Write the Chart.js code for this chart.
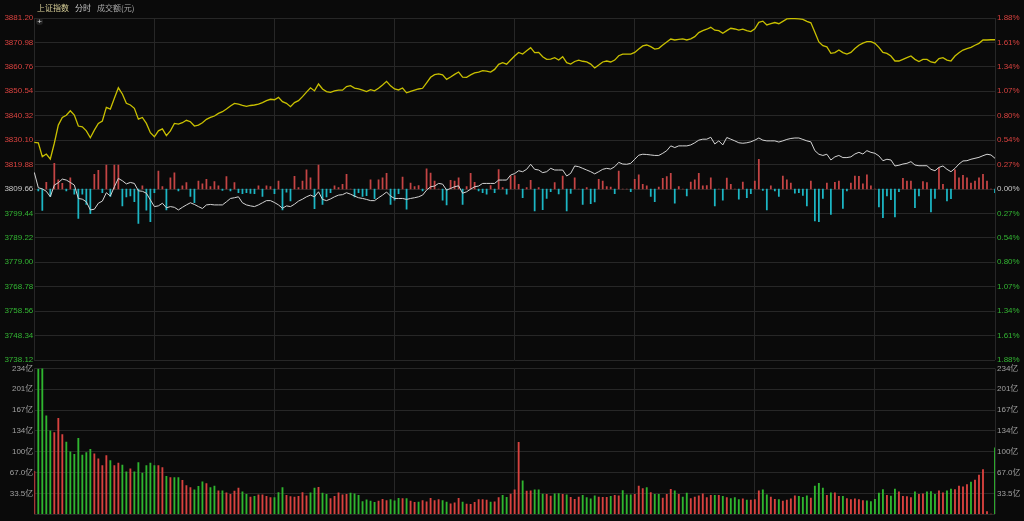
<!DOCTYPE html>
<html>
<head>
<meta charset="utf-8">
<title>上证指数 分时</title>
<script src="https://cdn.jsdelivr.net/npm/chart.js@4.4.1/dist/chart.umd.min.js"></script>
<style>
  body { margin: 0; background: #0a0a0a; }
  #wrap { position: relative; width: 1024px; height: 521px; overflow: hidden; background: #0a0a0a; }
  #wrap canvas { position: absolute; left: 0; top: 0; }
  #title { position: absolute; left: 37px; top: 2px; z-index: 3; white-space: nowrap;
           font: 8px "Noto Sans CJK SC", "Liberation Sans", sans-serif; color: #a8a8a8; }
  #title .name { color: #d8cf98; margin-right: 6px; }
  #title .mode { color: #c8c8c8; margin-right: 6px; }
  #cross { position: absolute; left: 36px; top: 18px; z-index: 3; width: 7px; height: 7px; border-radius: 50%;
           background: #222; color: #ddd; font: 8px "Liberation Sans", sans-serif; line-height: 7px; text-align: center; }
</style>
</head>
<body>
<div id="wrap">
  <div id="title"><span class="name">上证指数</span><span class="mode">分时</span><span>成交额(元)</span></div>
  <div id="cross">+</div>
  <canvas id="price" width="1024" height="521"></canvas>
  <canvas id="volume" width="1024" height="521"></canvas>
</div>
<script>
// 昨收
const prevClose = 3809.66;

// 左右坐标刻度 (从下到上)
const priceTicks = [3738.12, 3748.34, 3758.56, 3768.78, 3779.00, 3789.22, 3799.44, 3809.66,
                    3819.88, 3830.10, 3840.32, 3850.54, 3860.76, 3870.98, 3881.20];
const pctTicks = ['1.88%', '1.61%', '1.34%', '1.07%', '0.80%', '0.54%', '0.27%', '0.00%',
                  '0.27%', '0.54%', '0.80%', '1.07%', '1.34%', '1.61%', '1.88%'];
const volTicks = [0, 33.5, 67.0, 100, 134, 167, 201, 234];
const volLabels = ['', '33.5亿', '67.0亿', '100亿', '134亿', '167亿', '201亿', '234亿'];

// 黄线 (指数)
const indexLine = [
  3829.2, 3829.0, 3823.2, 3824.3, 3822.2, 3828.8, 3836.4, 3839.6, 3840.5, 3842.4,
  3840.6, 3836.0, 3835.7, 3834.0, 3831.1, 3834.3, 3837.1, 3838.1, 3843.8, 3843.1,
  3847.6, 3852.0, 3849.4, 3845.5, 3844.8, 3843.4, 3838.9, 3839.6, 3837.1, 3833.2,
  3831.5, 3834.0, 3834.8, 3832.0, 3834.0, 3837.1, 3836.8, 3837.4, 3838.4, 3837.8,
  3836.0, 3836.4, 3837.4, 3838.8, 3839.6, 3840.2, 3841.3, 3842.0, 3843.1, 3844.4,
  3845.5, 3845.2, 3844.6, 3844.2, 3844.6, 3844.8, 3845.2, 3845.8, 3846.6, 3847.2,
  3847.0, 3848.0, 3846.2, 3845.5, 3844.1, 3845.8, 3846.6, 3848.3, 3850.2, 3852.0,
  3850.7, 3853.6, 3851.5, 3850.4, 3850.1, 3850.7, 3851.0, 3851.0, 3852.5, 3852.9,
  3851.9, 3851.5, 3851.0, 3850.4, 3851.2, 3850.7, 3851.8, 3853.2, 3854.7, 3852.8,
  3851.5, 3851.1, 3851.9, 3849.9, 3850.5, 3851.0, 3851.5, 3851.8, 3854.1, 3856.4,
  3857.5, 3857.8, 3857.4, 3855.5, 3856.5, 3857.6, 3858.6, 3856.5, 3856.4, 3857.4,
  3858.2, 3858.6, 3859.2, 3859.0, 3858.6, 3859.7, 3861.8, 3862.5, 3861.9, 3863.6,
  3865.3, 3866.8, 3866.1, 3867.5, 3868.8, 3866.7, 3866.8, 3865.0, 3863.9, 3864.0,
  3864.6, 3863.6, 3865.0, 3862.5, 3861.9, 3863.0, 3863.6, 3863.1, 3862.8, 3861.9,
  3860.3, 3861.5, 3862.8, 3863.2, 3862.8, 3863.6, 3865.4, 3866.1, 3866.1, 3866.1,
  3866.8, 3868.2, 3869.5, 3869.9, 3869.2, 3868.2, 3868.5, 3869.9, 3871.2, 3872.4,
  3872.0, 3872.3, 3872.5, 3872.0, 3872.5, 3873.4, 3875.1, 3875.9, 3876.5, 3877.3,
  3876.1, 3875.9, 3874.8, 3875.9, 3876.9, 3876.6, 3876.1, 3876.5, 3875.9, 3875.5,
  3876.7, 3879.4, 3879.9, 3878.3, 3878.8, 3879.3, 3878.8, 3879.8, 3880.8, 3880.9,
  3880.9, 3880.8, 3880.6, 3879.8, 3879.2, 3875.2, 3871.2, 3869.6, 3869.1, 3866.4,
  3866.7, 3867.8, 3866.7, 3866.1, 3866.8, 3868.4, 3869.8, 3870.7, 3871.3, 3871.3,
  3870.6, 3868.9, 3866.8, 3866.4, 3865.3, 3863.2, 3863.2, 3863.9, 3864.6, 3865.3,
  3863.9, 3863.0, 3863.9, 3863.9, 3862.8, 3862.5, 3864.2, 3864.6, 3863.6, 3863.2,
  3865.3, 3866.7, 3867.8, 3868.4, 3868.9, 3869.8, 3870.6, 3872.0, 3872.0, 3872.1,
  3872.1
];

// 白线 (领先指标)
const leadLine = [
  3816.6, 3810.2, 3809.7, 3808.7, 3806.4, 3811.3, 3812.3, 3813.8, 3813.4, 3812.4,
  3811.3, 3805.7, 3805.4, 3804.3, 3800.9, 3801.2, 3803.7, 3804.6, 3808.1, 3806.7,
  3810.6, 3814.1, 3813.1, 3811.8, 3812.4, 3812.0, 3808.9, 3808.7, 3807.9, 3805.1,
  3802.3, 3802.6, 3803.7, 3801.8, 3802.3, 3802.0, 3800.9, 3802.0, 3803.0, 3803.9,
  3803.2, 3802.3, 3801.5, 3803.0, 3803.2, 3803.0, 3803.0, 3803.0, 3804.3, 3805.7,
  3806.0, 3806.4, 3803.9, 3803.0, 3802.6, 3802.3, 3803.0, 3803.9, 3804.8, 3804.8,
  3804.0, 3803.0, 3801.6, 3802.6, 3802.3, 3803.3, 3804.6, 3805.4, 3806.4, 3807.1,
  3806.4, 3808.5, 3805.3, 3804.8, 3805.5, 3806.4, 3807.1, 3807.3, 3808.1, 3807.5,
  3806.7, 3806.0, 3805.7, 3805.3, 3804.8, 3804.8, 3806.0, 3807.1, 3808.4, 3806.7,
  3805.7, 3805.7, 3805.7, 3805.3, 3805.7, 3806.0, 3806.4, 3807.1, 3809.2, 3810.6,
  3810.9, 3812.0, 3811.7, 3809.2, 3809.9, 3810.6, 3811.0, 3807.9, 3808.5, 3809.6,
  3810.6, 3810.9, 3812.0, 3812.0, 3812.0, 3812.0, 3813.4, 3813.4, 3813.4, 3815.5,
  3816.1, 3817.3, 3816.9, 3817.9, 3820.0, 3817.9, 3817.6, 3816.5, 3816.9, 3818.3,
  3817.6, 3817.6, 3817.6, 3815.1, 3816.2, 3819.3, 3819.0, 3818.3, 3817.6, 3816.9,
  3816.0, 3816.9, 3817.9, 3818.3, 3818.0, 3819.0, 3820.8, 3820.1, 3820.0, 3820.4,
  3822.1, 3823.8, 3824.2, 3824.1, 3823.9, 3823.7, 3823.7, 3824.6, 3825.7, 3827.7,
  3827.0, 3827.7, 3827.7, 3827.7, 3828.1, 3829.0, 3830.1, 3830.5, 3830.5, 3831.3,
  3828.5, 3829.8, 3828.1, 3831.2, 3830.5, 3829.8, 3829.0, 3828.8, 3829.0, 3829.4,
  3830.1, 3831.0, 3830.1, 3829.8, 3829.8, 3829.8, 3829.3, 3829.8, 3830.4, 3830.8,
  3831.0, 3831.0, 3830.4, 3829.8, 3829.4, 3825.7, 3824.2, 3823.7, 3824.2, 3821.8,
  3823.1, 3823.7, 3822.8, 3822.8, 3823.1, 3824.3, 3825.0, 3824.3, 3825.7, 3825.0,
  3824.6, 3823.5, 3821.5, 3822.1, 3821.8, 3819.3, 3819.6, 3820.1, 3820.4, 3821.1,
  3819.7, 3819.4, 3819.4, 3819.4, 3817.9, 3817.3, 3818.7, 3819.3, 3817.9, 3816.9,
  3818.3, 3820.1, 3821.4, 3821.5, 3822.1, 3822.5, 3822.9, 3823.6, 3824.2, 3823.9,
  3822.5
];

// 红绿柱 (点)
const momentum = [
  0, -0.8, -9.0, 2.8, -3.1, 10.7, 3.8, 2.4, -0.8, 4.7,
  -2.2, -12.3, -2.2, -6.4, -10.3, 6.1, 7.8, -1.5, 10.0, -3.1,
  10.0, 10.0, -7.1, -3.3, -2.9, -5.3, -14.4, 1.3, -8.9, -13.7,
  -1.5, 7.5, 1.0, -8.8, 4.7, 6.8, -0.8, 1.3, 2.7, -3.1,
  -5.7, 3.3, 2.2, 4.0, 1.0, 3.1, 1.3, -0.6, 5.2, -0.8,
  2.7, -1.5, -2.0, -1.5, -1.8, -2.0, 1.3, -3.1, 1.3, 1.0,
  -2.0, 3.3, -8.8, -1.3, -5.0, 5.3, 0.6, 3.3, 8.0, 4.7,
  -8.2, 10.0, -6.4, -3.3, -1.5, 1.3, 0.6, 2.0, 6.1, 0,
  -3.3, -1.5, -3.1, -2.8, 3.8, -4.0, 3.8, 4.7, 6.6, -6.4,
  -4.7, -2.0, 5.0, -8.4, 2.5, 1.0, 1.4, -0.8, 8.4, 6.7,
  3.3, 0, -4.7, -6.7, 3.6, 3.3, 4.7, -6.4, 1.0, 6.6,
  2.8, -0.8, -1.5, -2.2, 1.4, -1.5, 8.1, 0.6, -2.2, 5.4,
  5.6, 2.0, -3.6, 0.6, 3.6, -9.2, 0.6, -8.6, -3.9, -1.1,
  2.7, -2.1, 5.4, -9.2, -1.8, 4.7, 0, -6.4, 0.6, -6.1,
  -5.4, 4.0, 3.3, 1.0, 0.8, -2.0, 7.5, 0, 0, -1.1,
  4.0, 5.9, 2.0, 1.3, -3.1, -5.3, 0.8, 4.5, 5.2, 6.6,
  -5.9, 1.0, 0, -2.9, 2.9, 3.8, 6.6, 1.3, 1.4, 4.7,
  -7.1, 0, -4.7, 4.6, 2.0, 0, -4.3, 2.9, -3.6, -2.0,
  3.3, 12.4, -0.6, -8.8, 1.3, -0.8, -3.1, 5.4, 3.8, 2.5,
  -1.7, -1.5, -2.7, -7.1, 3.3, -13.4, -13.7, -3.9, 2.5, -10.6,
  2.8, 3.3, -8.1, -0.8, 2.5, 5.4, 5.3, 2.2, 5.9, 1.3,
  0, -7.5, -12.0, -2.9, -4.5, -11.7, -1.1, 4.5, 3.3, 3.3,
  -7.8, -2.9, 3.1, 2.7, -9.6, -3.9, 8.9, 2.0, -5.0, -4.0,
  8.0, 4.7, 5.7, 4.7, 2.5, 3.3, 4.7, 6.1, 3.3, 0,
  -1.5
];

// 成交额 (亿)
const volume = [
  69, 233, 235, 158, 134, 131, 154, 128, 116, 100,
  96, 122, 95, 99, 104, 97, 89, 78, 94, 86,
  78, 82, 79, 68, 73, 68, 83, 66, 78, 82,
  78, 78, 75, 61, 59, 59, 59, 54.5, 46, 42.6,
  39, 44.6, 52, 49, 42.6, 45, 37.5, 37.5, 34.4, 31.8,
  37, 42, 36, 31.8, 27.6, 28.7, 31.3, 31.3, 28.7, 26.6,
  26.6, 34.9, 42.6, 30.2, 28.2, 27.6, 28.7, 34.9, 29.7, 34.4,
  42, 43, 33.8, 31.8, 25, 28.7, 34.4, 31.3, 31.8, 33.8,
  32.6, 30.2, 20.4, 23, 20.9, 18.9, 20.9, 24, 22, 23.5,
  21.4, 25.6, 25, 25, 20.9, 18.9, 19.5, 22, 20, 25.6,
  22, 23.5, 22, 19.5, 16.8, 18.4, 25.6, 19.5, 16.3, 15.8,
  18.9, 23.5, 23.5, 22.5, 19.5, 20, 26.6, 30.2, 27, 32.5,
  39, 115.4, 53.5, 37, 37.5, 39, 39, 32.5, 31.8, 29.2,
  32.8, 33.3, 31.8, 31.3, 27, 24, 27.6, 30.2, 26.6, 24.5,
  29.7, 27.6, 27, 27, 28.7, 30.2, 29.7, 38, 31.3, 31.3,
  31.8, 45, 41, 42.6, 34.9, 31.8, 31.8, 26, 31.8, 40,
  37.7, 31.8, 27.6, 33.8, 25, 27.6, 29.7, 32.8, 26.6, 30.2,
  30.2, 30.2, 28.7, 26.6, 25, 26.6, 23.5, 24.5, 22.5, 22.5,
  23.5, 37.5, 39, 31.3, 27.6, 24, 23.5, 20.9, 22.5, 24.5,
  29.7, 28.7, 27, 29.7, 26, 45, 49.6, 42, 30.2, 34.4,
  34.4, 28.7, 28.7, 25, 23.5, 24.5, 23.5, 22, 21.4, 20.4,
  24, 33.8, 39.5, 30.2, 29.2, 40.5, 36, 28.7, 28.2, 26.6,
  36, 31.8, 32.8, 36, 36.4, 31.8, 37.5, 34.4, 37.5, 40.5,
  39.5, 45, 44, 47.5, 51.5, 54.6, 62.9, 71.7, 4.4, 0,
  106.7
];

// 涨跌 (1 = 涨 红, 0 = 跌 绿)
const volUp = [
  1,0,0,0,0,1,1,1,0,0, 0,0,0,0,0,1,1,1,1,0, 1,1,0,0,1,0,0,0,0,0,
  0,1,1,0,1,0,0,1,1,1, 0,0,0,1,0,0,1,0,1,1, 1,1,0,0,1,0,1,1,1,1,
  0,0,0,1,1,1,1,1,1,0, 0,1,0,0,1,1,1,1,1,0, 0,0,0,0,0,0,1,1,1,0,
  0,0,1,0,1,1,0,1,1,1, 1,1,0,0,1,1,1,0,1,1, 1,1,1,1,0,1,1,0,0,1,
  1,1,0,1,1,0,0,0,1,1, 0,0,1,0,1,1,1,0,0,0, 0,1,1,1,0,1,1,0,0,0,
  1,1,1,0,1,0,0,1,1,1, 0,1,0,0,1,1,1,1,1,1, 0,1,0,1,0,0,0,1,0,1,
  1,1,0,0,1,1,0,1,1,1, 1,0,0,0,1,0,0,0,1,0, 1,1,0,1,1,1,1,1,0,0,
  0,0,0,1,0,0,1,1,1,1, 0,1,1,0,0,0,1,1,0,0, 1,1,1,1,0,1,1,1,1,1,
  0
];

// 时间轴 09:30-11:30, 13:01-15:00
const times = [];
for (let m = 9 * 60 + 30; m <= 11 * 60 + 30; m++) times.push(fmt(m));
for (let m = 13 * 60 + 1; m <= 15 * 60; m++) times.push(fmt(m));
function fmt(m) {
  return String(Math.floor(m / 60)).padStart(2, '0') + ':' + String(m % 60).padStart(2, '0');
}

const RED = '#d8423f';
const GREEN = '#2fb52f';
const CYAN = '#1cb6c4';
const GRID = '#272727';
const FONT = { size: 8, family: 'Arial, "Liberation Sans", "Noto Sans CJK SC", sans-serif' };

function priceColor(c) {
  const v = c.tick.value;
  if (Math.abs(v - prevClose) < 0.005) return '#c8c8c8';
  return v > prevClose ? RED : '#33b533';
}

function xScale() {
  return {
    type: 'category',
    offset: false,
    grid: { color: GRID, offset: false, drawTicks: false },
    border: { display: false },
    ticks: { display: false },
    afterBuildTicks: (s) => { s.ticks = [0, 30, 60, 90, 120, 150, 180, 210, 240].map(v => ({ value: v })); },
    afterFit: (s) => { s.height = 0; }
  };
}

Chart.defaults.animation = false;

new Chart(document.getElementById('price'), {
  data: {
    labels: times,
    datasets: [
      { type: 'line', data: indexLine, borderColor: '#c9c000', borderWidth: 1.3, pointRadius: 0, tension: 0, yAxisID: 'y' },
      { type: 'line', data: leadLine, borderColor: '#d4d4d4', borderWidth: 1, pointRadius: 0, tension: 0, yAxisID: 'y' },
      { type: 'bar', data: momentum, yAxisID: 'yM', barThickness: 1.1,
        backgroundColor: momentum.map(v => v >= 0 ? '#c44444' : CYAN) }
    ]
  },
  options: {
    responsive: false,
    layout: { padding: { top: 18, bottom: 161, left: 0, right: 0 } },
    plugins: { legend: { display: false }, tooltip: { enabled: false } },
    scales: {
      x: xScale(),
      y: {
        position: 'left',
        min: priceTicks[0], max: priceTicks[priceTicks.length - 1],
        grid: { color: GRID, drawTicks: false },
        border: { display: false },
        afterBuildTicks: (s) => { s.ticks = priceTicks.map(v => ({ value: v })); },
        afterFit: (s) => { s.width = 34.3; },
        ticks: { font: FONT, padding: 1, color: priceColor, callback: (v) => Number(v).toFixed(2) }
      },
      yR: {
        position: 'right',
        min: priceTicks[0], max: priceTicks[priceTicks.length - 1],
        grid: { drawOnChartArea: false, drawTicks: false },
        border: { display: false },
        afterBuildTicks: (s) => { s.ticks = priceTicks.map(v => ({ value: v })); },
        afterFit: (s) => { s.width = 29; },
        ticks: { font: FONT, padding: 2, color: priceColor, callback: (v, i) => pctTicks[i] }
      },
      yM: {
        display: false,
        min: priceTicks[0] - prevClose, max: priceTicks[priceTicks.length - 1] - prevClose
      }
    }
  }
});

new Chart(document.getElementById('volume'), {
  type: 'bar',
  data: {
    labels: times,
    datasets: [
      { data: volume, barThickness: 1.2, backgroundColor: volUp.map(u => u ? RED : GREEN) }
    ]
  },
  options: {
    responsive: false,
    layout: { padding: { top: 368.5, bottom: 1.5, left: 0, right: 0 } },
    plugins: { legend: { display: false }, tooltip: { enabled: false } },
    scales: {
      x: xScale(),
      y: {
        position: 'left',
        min: 0, max: volTicks[volTicks.length - 1],
        grid: { color: GRID, drawTicks: false },
        border: { display: false },
        afterBuildTicks: (s) => { s.ticks = volTicks.map(v => ({ value: v })); },
        afterFit: (s) => { s.width = 34.3; },
        ticks: { font: FONT, padding: 1, color: '#a0a0a0', callback: (v, i) => volLabels[i] }
      },
      yR: {
        position: 'right',
        min: 0, max: volTicks[volTicks.length - 1],
        grid: { drawOnChartArea: false, drawTicks: false },
        border: { display: false },
        afterBuildTicks: (s) => { s.ticks = volTicks.map(v => ({ value: v })); },
        afterFit: (s) => { s.width = 29; },
        ticks: { font: FONT, padding: 2, color: '#a0a0a0', callback: (v, i) => volLabels[i] }
      }
    }
  }
});
</script>
</body>
</html>
